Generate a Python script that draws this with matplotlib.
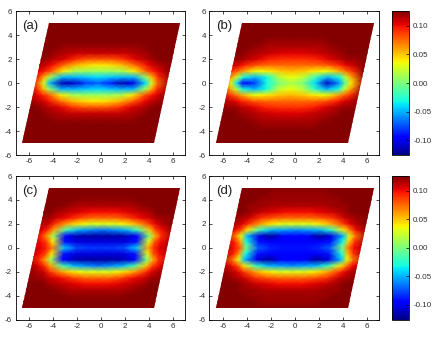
import numpy as np
import matplotlib
matplotlib.use("Agg")
import matplotlib.pyplot as plt
from matplotlib.patches import Polygon

plt.rcParams['font.family'] = ['Liberation Sans', 'DejaVu Sans']
plt.rcParams['axes.unicode_minus'] = False

x_nodes = [-7, -6, -5, -4.5, -4, -3, -2, -1, 0, 1, 2, 3, 4, 4.5, 5, 6, 7]
y_nodes = [0, .5, 1, 1.5, 2, 2.5, 3, 3.5, 4, 4.5, 5]
region_x = [-6.6, 4.4, 6.6, -4.4]
region_y = [-5, -5, 5, 5]
tick_values = [-6, -4, -2, 0, 2, 4, 6]
cbar_ticks = [-0.10, -0.05, 0.0, 0.05, 0.10]
x_centres = [-.3, -.35, -.1, -.1]
lattice_tilt = .1
M = .125

field_a = [
 [M,.12,.075,.025,-.05,-.115,-.11,-.08,-.07,-.085,-.115,-.105,-.04,.025,.075,.12,M],
 [M,.12,.09,.055,.01,-.05,-.05,-.045,-.04,-.045,-.05,-.05,.01,.055,.09,.12,M],
 [M,M,.105,.095,.08,.04,.015,.01,.01,.01,.015,.04,.08,.095,.105,M,M],
 [M,M,.115,.11,.10,.075,.055,.045,.04,.045,.055,.075,.10,.11,.115,M,M],
 [M,M,M,.12,.115,.105,.09,.08,.08,.08,.09,.105,.115,.12,M,M,M],
 [M,M,M,M,.12,.115,.11,.11,.11,.11,.11,.115,.12,M,M,M,M],
 [M,M,M,M,M,.12,.12,.12,.12,.12,.12,.12,M,M,M,M,M],
 [M,M,M,M,M,M,M,M,M,M,M,M,M,M,M,M,M],
 [M,M,M,M,M,M,M,M,M,M,M,M,M,M,M,M,M],
 [M,M,M,M,M,M,M,M,M,M,M,M,M,M,M,M,M],
 [M,M,M,M,M,M,M,M,M,M,M,M,M,M,M,M,M],
]
field_b = [
 [M,.115,.03,-.04,-.10,-.08,-.03,.0,.015,.0,-.04,-.11,-.06,-.01,.04,.115,M],
 [M,.12,.06,.02,-.03,-.05,-.03,.02,.035,.02,-.02,-.05,-.03,.02,.06,.12,M],
 [M,M,.09,.075,.06,.035,.04,.05,.055,.05,.04,.035,.06,.075,.09,M,M],
 [M,M,.11,.105,.095,.08,.075,.075,.075,.075,.075,.08,.095,.105,.11,M,M],
 [M,M,.12,.12,.115,.105,.095,.09,.09,.09,.095,.105,.115,.12,.12,M,M],
 [M,M,M,M,.12,.115,.11,.105,.105,.105,.11,.115,.12,M,M,M,M],
 [M,M,M,M,M,.12,.115,.115,.115,.115,.115,.12,M,M,M,M,M],
 [M,M,M,M,M,M,.12,.12,.12,.12,.12,M,M,M,M,M,M],
 [M,M,M,M,M,M,M,M,M,M,M,M,M,M,M,M,M],
 [M,M,M,M,M,M,M,M,M,M,M,M,M,M,M,M,M],
 [M,M,M,M,M,M,M,M,M,M,M,M,M,M,M,M,M],
]
field_c = [
 [M,.12,.105,.095,.07,-.045,-.075,-.08,-.08,-.08,-.075,-.045,.06,.09,.105,.12,M],
 [M,.12,.10,.085,.04,-.09,-.105,-.105,-.105,-.105,-.105,-.09,.03,.08,.10,.12,M],
 [M,.12,.09,.06,.01,-.095,-.115,-.118,-.118,-.118,-.115,-.095,.0,.055,.09,.12,M],
 [M,M,.105,.09,.06,-.015,-.05,-.06,-.065,-.06,-.05,-.015,.05,.085,.10,M,M],
 [M,M,.115,.11,.09,.06,.04,.03,.03,.03,.04,.06,.09,.105,.115,M,M],
 [M,M,.12,.118,.11,.10,.085,.075,.075,.075,.085,.10,.11,.118,.12,M,M],
 [M,M,M,M,.118,.112,.105,.10,.10,.10,.105,.112,.118,M,M,M,M],
 [M,M,M,M,M,.12,.115,.115,.115,.115,.115,.12,M,M,M,M,M],
 [M,M,M,M,M,M,.122,.122,.122,.122,.122,M,M,M,M,M,M],
 [M,M,M,M,M,M,M,M,M,M,M,M,M,M,M,M,M],
 [M,M,M,M,M,M,M,M,M,M,M,M,M,M,M,M,M],
]
field_d = [
 [M,.12,.10,.08,.0,-.07,-.085,-.09,-.09,-.09,-.085,-.07,.0,.07,.10,.12,M],
 [M,.12,.095,.06,-.03,-.09,-.095,-.095,-.095,-.095,-.095,-.09,-.03,.05,.09,.12,M],
 [M,.12,.07,.03,-.05,-.105,-.12,-.10,-.095,-.10,-.12,-.105,-.05,.03,.07,.12,M],
 [M,M,.10,.08,.04,-.02,-.05,-.055,-.06,-.055,-.05,-.02,.04,.07,.10,M,M],
 [M,M,.115,.105,.09,.06,.04,.03,.03,.03,.04,.06,.09,.105,.115,M,M],
 [M,M,.12,.115,.11,.09,.08,.075,.075,.075,.08,.09,.11,.115,.12,M,M],
 [M,M,M,M,.12,.11,.105,.10,.10,.10,.105,.11,.12,M,M,M,M],
 [M,M,M,M,.12,.12,.115,.115,.115,.115,.115,.12,.12,M,M,M,M],
 [M,M,M,M,M,.12,.12,.12,.12,.12,.12,.12,M,M,M,M,M],
 [M,M,M,M,M,M,.12,.12,.12,.12,.12,M,M,M,M,M,M],
 [M,M,M,M,M,M,M,M,M,M,M,M,M,M,M,M,M],
]
panel_labels = ['(a)', '(b)', '(c)', '(d)']
fields = [field_a, field_b, field_c, field_d]

W, H = 436, 339
fig = plt.figure(figsize=(W / 100, H / 100), dpi=100)

def box(l, r, t, b):
    return [l / W, 1 - b / H, (r - l) / W, (b - t) / H]

boxes = [box(15.7, 185, 11, 155), box(209.3, 379.3, 11, 155),
         box(15.7, 185, 176, 319.5), box(209.3, 379.3, 176, 319.5)]
cboxes = [box(392, 409, 11, 155), box(392, 409, 176, 319.5)]

yy_full = np.r_[-np.array(y_nodes[:0:-1]), y_nodes]
text_col = '#303030'

for i, (pos, f, lab) in enumerate(zip(boxes, fields, panel_labels)):
    ax = fig.add_axes(pos)
    f = np.array(f)
    Z = np.vstack([f[:0:-1], f])
    X, Y = np.meshgrid(x_nodes, yy_full)
    X = X + x_centres[i] + lattice_tilt * Y
    m = ax.pcolormesh(X, Y, Z, cmap='jet', vmin=-.126, vmax=.126, shading='gouraud')
    clip = Polygon(np.c_[region_x, region_y], closed=True, transform=ax.transData,
                   facecolor='none', edgecolor='none')
    ax.add_patch(clip)
    m.set_clip_path(clip)
    ax.set_xlim(-7.15, 7.0)
    ax.set_ylim(-6, 6)
    ax.set_xticks(tick_values)
    ax.set_yticks(tick_values)
    ax.tick_params(direction='in', length=2, width=0.5, top=True, right=True,
                   labelsize=5.8, labelcolor=text_col, pad=2.5)
    for s in ax.spines.values():
        s.set_linewidth(0.6)
    ax.text(-6.6, 4.75, lab, fontsize=9.5, color='#202020', ha='left', va='center')
    if i in (1, 3):
        cax = fig.add_axes(cboxes[i // 2])
        cb = fig.colorbar(m, cax=cax)
        cb.set_ticks(cbar_ticks)
        cb.set_ticklabels(['-0.10', '-0.05', '0.00', '0.05', '0.10'])
        cax.tick_params(direction='in', length=2, width=0.5, labelsize=5.8,
                        labelcolor=text_col, pad=3)
        cb.outline.set_linewidth(0.6)

fig.savefig('out.png', dpi=100)
